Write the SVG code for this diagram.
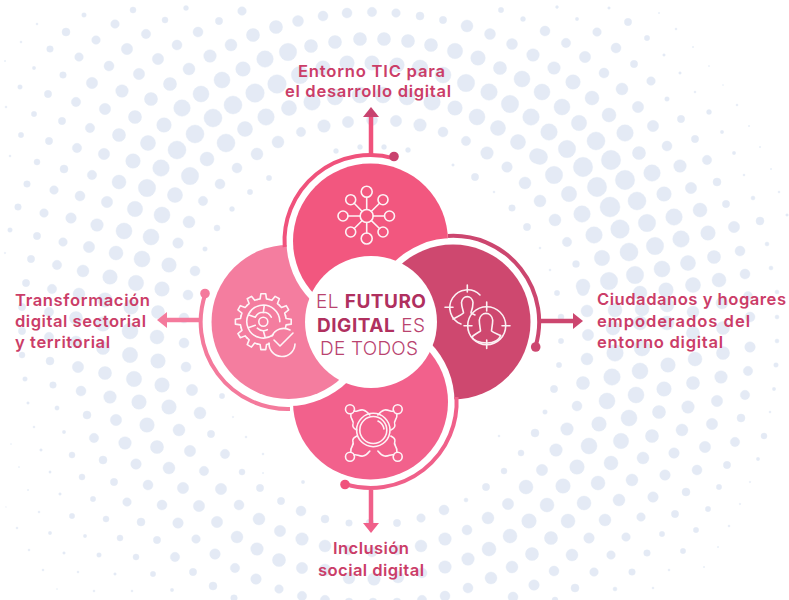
<svg xmlns="http://www.w3.org/2000/svg" width="789" height="600" viewBox="0 0 789 600">
<style>
.l{font-family:"Inter","Liberation Sans",sans-serif;font-weight:600;font-size:16.6px;fill:#cb3d68}
.c{font-family:"Inter","Liberation Sans",sans-serif;font-weight:300;font-size:19px;fill:#b9436f}
.c tspan{font-weight:700;fill:#b0305f}
.i{fill:none;stroke:#fff;stroke-width:1.6;stroke-linecap:round;stroke-linejoin:round;opacity:.92}
.r{fill:none;stroke-width:4;stroke-linecap:butt}
.s{fill:none;stroke-width:4.5}
</style>
<defs>
<marker id="mt" markerUnits="userSpaceOnUse" markerWidth="11" markerHeight="16" refX="0" refY="8" orient="auto"><path d="M0 0L10 8L0 16Z" fill="#c8436f"/></marker>
<marker id="mr" markerUnits="userSpaceOnUse" markerWidth="11" markerHeight="16" refX="0" refY="8" orient="auto"><path d="M0 0L10 8L0 16Z" fill="#cc466f"/></marker>
<marker id="mb" markerUnits="userSpaceOnUse" markerWidth="11" markerHeight="16" refX="0" refY="8" orient="auto"><path d="M0 0L10 8L0 16Z" fill="#f0608a"/></marker>
<marker id="ml" markerUnits="userSpaceOnUse" markerWidth="11" markerHeight="16" refX="0" refY="8" orient="auto"><path d="M0 0L10 8L0 16Z" fill="#f47a9c"/></marker>
<clipPath id="lc"><rect x="190" y="340" width="210" height="90"/></clipPath>
<path id="tooth" d="M-5.95-22.2L-3.2-22.8L-2.44-27.9H2.44L3.2-22.8L5.95-22.2"/>
<path id="hubw" d="M-20-22C-16-20-12-28-4-18M-23-19C-24-13-19-13-21-8C-21.500-5-19-4-17-3"/>
</defs>
<rect width="789" height="600" fill="#fff"/>
<g id="background" fill="#e4eaf5" stroke="#e4eaf5" stroke-width=".4">
<circle cx="133" cy="10" r="3"/><circle cx="186" cy="8" r="2.5"/><circle cx="242" cy="11" r="4.3"/><circle cx="84" cy="15" r="2.3"/><circle cx="37" cy="24" r="1"/><circle cx="115" cy="24" r="4.3"/><circle cx="165" cy="20" r="3"/><circle cx="219" cy="21" r="3.7"/><circle cx="276" cy="27" r="6.6"/><circle cx="298" cy="21" r="5.5"/><circle cx="66" cy="32" r="4"/><circle cx="146" cy="34" r="4.7"/><circle cx="198" cy="32" r="5"/><circle cx="253" cy="35" r="6.6"/><circle cx="21" cy="42" r="1"/><circle cx="96" cy="40" r="4.3"/><circle cx="177" cy="45" r="5"/><circle cx="231" cy="45" r="6"/><circle cx="288" cy="52" r="8.7"/><circle cx="50" cy="49" r="3.3"/><circle cx="127" cy="49" r="5.7"/><circle cx="210" cy="56" r="6.3"/><circle cx="265" cy="59" r="8.3"/><circle cx="79" cy="57" r="4.3"/><circle cx="158" cy="59" r="5.7"/><circle cx="5" cy="61" r=".7"/><circle cx="109" cy="66" r="5"/><circle cx="189" cy="69" r="6"/><circle cx="243" cy="69" r="7.3"/><circle cx="34" cy="68" r="1.7"/><circle cx="63" cy="75" r="3.3"/><circle cx="139" cy="74" r="5.7"/><circle cx="222" cy="80" r="8"/><circle cx="277" cy="84" r="9.3"/><circle cx="20" cy="87" r="2.3"/><circle cx="92" cy="83" r="5.7"/><circle cx="170" cy="84" r="6.6"/><circle cx="255" cy="93" r="9.3"/><circle cx="48" cy="94" r="3.7"/><circle cx="122" cy="91" r="6.3"/><circle cx="201" cy="94" r="8"/><circle cx="76" cy="102" r="4.7"/><circle cx="151" cy="99" r="6.6"/><circle cx="233" cy="105" r="9"/><circle cx="289" cy="108" r="7.6"/><circle cx="182" cy="108" r="8.3"/><circle cx="105" cy="109" r="5.7"/><circle cx="6" cy="107" r="1"/><circle cx="34" cy="114" r="2.7"/><circle cx="213" cy="118" r="9"/><circle cx="266" cy="117" r="8.3"/><circle cx="135" cy="117" r="6.6"/><circle cx="62" cy="121" r="3.7"/><circle cx="164" cy="125" r="7.3"/><circle cx="90" cy="128" r="4.7"/><circle cx="245" cy="129" r="7.6"/><circle cx="195" cy="134" r="9"/><circle cx="119" cy="135" r="6.6"/><circle cx="21" cy="135" r="2.7"/><circle cx="49" cy="141" r="3.7"/><circle cx="148" cy="143" r="7.6"/><circle cx="226" cy="143" r="9"/><circle cx="278" cy="142" r="6"/><circle cx="77" cy="148" r="4.7"/><circle cx="177" cy="150" r="9"/><circle cx="10" cy="156" r="1"/><circle cx="104" cy="154" r="5.7"/><circle cx="257" cy="154" r="6"/><circle cx="207" cy="159" r="7"/><circle cx="133" cy="161" r="7.3"/><circle cx="37" cy="162" r="3"/><circle cx="161" cy="168" r="8.3"/><circle cx="64" cy="169" r="4"/><circle cx="237" cy="168" r="5"/><circle cx="92" cy="175" r="4.7"/><circle cx="190" cy="176" r="8.7"/><circle cx="119" cy="182" r="7"/><circle cx="269" cy="178" r="2.7"/><circle cx="27" cy="184" r="3.3"/><circle cx="220" cy="184" r="5"/><circle cx="147" cy="188" r="8.7"/><circle cx="54" cy="190" r="4.3"/><circle cx="250" cy="192" r="2.7"/><circle cx="175" cy="195" r="7.6"/><circle cx="80" cy="196" r="5"/><circle cx="107" cy="202" r="5.7"/><circle cx="203" cy="201" r="4.7"/>
<circle cx="135" cy="209" r="7.7"/><circle cx="18" cy="207" r="3.3"/><circle cx="44" cy="213" r="4.3"/><circle cx="71" cy="218" r="5.3"/><circle cx="162" cy="215" r="8"/><circle cx="189" cy="222" r="6"/><circle cx="97" cy="225" r="6.3"/><circle cx="124" cy="231" r="8"/><circle cx="10" cy="230" r="2.3"/><circle cx="151" cy="237" r="8"/><circle cx="37" cy="236" r="3.7"/><circle cx="178" cy="243" r="5.3"/><circle cx="63" cy="242" r="4.3"/><circle cx="89" cy="247" r="5.7"/><circle cx="205" cy="249" r="2.3"/><circle cx="116" cy="253" r="7"/><circle cx="5" cy="253" r=".8"/><circle cx="31" cy="259" r="3.7"/><circle cx="142" cy="259" r="8"/><circle cx="169" cy="265" r="7.3"/><circle cx="57" cy="265" r="4.7"/><circle cx="195" cy="271" r="5"/><circle cx="83" cy="271" r="6"/><circle cx="110" cy="277" r="7.3"/><circle cx="26" cy="283" r="3.7"/><circle cx="136" cy="283" r="7.7"/><circle cx="52" cy="289" r="4.7"/><circle cx="162" cy="289" r="7.3"/><circle cx="79" cy="294" r="6"/><circle cx="188" cy="295" r="5"/><circle cx="105" cy="300" r="7.3"/><circle cx="131" cy="307" r="7.3"/><circle cx="22" cy="307" r="3.7"/><circle cx="158" cy="312" r="6.6"/><circle cx="49" cy="312" r="4.7"/><circle cx="184" cy="318" r="5"/><circle cx="76" cy="318" r="6.6"/><circle cx="103" cy="324" r="7.3"/><circle cx="22" cy="331" r="3.7"/><circle cx="130" cy="331" r="8"/><circle cx="49" cy="337" r="4.7"/><circle cx="157" cy="337" r="7"/><circle cx="76" cy="342" r="6"/><circle cx="184" cy="343" r="5"/><circle cx="103" cy="348" r="6.6"/><circle cx="22" cy="355" r="3"/><circle cx="130" cy="355" r="7.7"/><circle cx="50" cy="361" r="4"/><circle cx="158" cy="361" r="7.3"/><circle cx="78" cy="367" r="5.7"/><circle cx="186" cy="367" r="5"/><circle cx="105" cy="373" r="6.6"/><circle cx="25" cy="379" r="2.3"/><circle cx="134" cy="379" r="7.7"/><circle cx="53" cy="385" r="3.3"/><circle cx="162" cy="385" r="7.3"/><circle cx="81" cy="391" r="5"/><circle cx="192" cy="390" r="5.7"/><circle cx="110" cy="397" r="6.3"/><circle cx="28" cy="403" r="1.3"/><circle cx="139" cy="402" r="7.3"/><circle cx="169" cy="407" r="7.3"/><circle cx="57" cy="408" r="2.2"/><circle cx="222" cy="396" r="2.7"/>
<circle cx="87" cy="415" r="4"/><circle cx="200" cy="413" r="6"/><circle cx="116" cy="420" r="5.7"/><circle cx="147" cy="425" r="7.3"/><circle cx="179" cy="430" r="6"/><circle cx="211" cy="434" r="3.7"/><circle cx="233" cy="417" r=".8"/><circle cx="34" cy="427" r="1"/><circle cx="64" cy="432" r="1.7"/><circle cx="94" cy="438" r="4.7"/><circle cx="125" cy="443" r="6.3"/><circle cx="157" cy="447" r="6.6"/><circle cx="190" cy="451" r="5.7"/><circle cx="225" cy="454" r="4.7"/><circle cx="246" cy="437" r="1"/><circle cx="11" cy="444" r=".5"/><circle cx="41" cy="450" r="1.3"/><circle cx="72" cy="455" r="3"/><circle cx="103" cy="460" r="4"/><circle cx="136" cy="464" r="5.3"/><circle cx="169" cy="468" r="6"/><circle cx="204" cy="471" r="4.7"/><circle cx="242" cy="472" r="3"/><circle cx="263" cy="454" r="1"/><circle cx="19" cy="467" r=".6"/><circle cx="50" cy="472" r="1.2"/><circle cx="82" cy="477" r="3"/><circle cx="114" cy="482" r="3.7"/><circle cx="148" cy="485" r="5"/><circle cx="183" cy="488" r="5.7"/><circle cx="221" cy="489" r="5.7"/><circle cx="260" cy="488" r="3.7"/><circle cx="28" cy="490" r=".7"/><circle cx="60" cy="494" r="1.3"/><circle cx="93" cy="499" r="2.7"/><circle cx="127" cy="502" r="4.3"/><circle cx="162" cy="505" r="5"/><circle cx="199" cy="506" r="5.7"/><circle cx="239" cy="505" r="5"/><circle cx="281" cy="501" r="3.7"/><circle cx="301" cy="511" r="5"/><circle cx="6" cy="507" r=".4"/><circle cx="39" cy="512" r="1"/><circle cx="72" cy="516" r="2.7"/><circle cx="106" cy="519" r="3"/><circle cx="141" cy="522" r="4"/><circle cx="178" cy="523" r="5.3"/><circle cx="217" cy="522" r="5.7"/><circle cx="259" cy="519" r="6"/><circle cx="17" cy="528" r="1"/><circle cx="50" cy="533" r="1.7"/><circle cx="85" cy="536" r="1.7"/><circle cx="120" cy="538" r="3"/><circle cx="157" cy="540" r="3.7"/><circle cx="196" cy="539" r="4.3"/><circle cx="237" cy="537" r="6"/><circle cx="280" cy="531" r="5.7"/><circle cx="302" cy="539" r="6.3"/><circle cx="29" cy="550" r="1"/><circle cx="64" cy="553" r="1.3"/><circle cx="99" cy="555" r="2.3"/><circle cx="136" cy="557" r="3"/><circle cx="175" cy="557" r="4.7"/><circle cx="215" cy="554" r="5.3"/><circle cx="257" cy="549" r="6.3"/><circle cx="279" cy="560" r="6.6"/><circle cx="43" cy="570" r="1"/><circle cx="78" cy="572" r="1"/><circle cx="115" cy="574" r="1.3"/><circle cx="153" cy="574" r="2.7"/><circle cx="193" cy="572" r="3.7"/><circle cx="235" cy="568" r="4.7"/><circle cx="302" cy="568" r="5.7"/><circle cx="57" cy="589" r=".5"/><circle cx="94" cy="591" r="1"/><circle cx="132" cy="591" r="1"/><circle cx="172" cy="590" r="1.7"/><circle cx="213" cy="586" r="4"/><circle cx="256" cy="579" r="5.3"/><circle cx="279" cy="589" r="4.3"/><circle cx="234" cy="598" r="3.3"/><circle cx="302" cy="596" r="4.7"/><circle cx="303" cy="482" r="1.7"/><circle cx="263" cy="473" r=".7"/>
<circle cx="325" cy="519" r="4"/><circle cx="349" cy="523" r="3.3"/><circle cx="370" cy="523" r="4"/><circle cx="397" cy="523" r="3.7"/><circle cx="421" cy="518" r="4.3"/><circle cx="444" cy="510" r="5"/><circle cx="466" cy="500" r="2"/><circle cx="486" cy="487" r="3.7"/><circle cx="526" cy="487" r="7"/><circle cx="508" cy="504" r="5.7"/><circle cx="488" cy="518" r="6"/><circle cx="529" cy="521" r="7.3"/><circle cx="467" cy="530" r="5"/><circle cx="510" cy="536" r="7"/><circle cx="445" cy="539" r="6.3"/><circle cx="421" cy="546" r="6"/><circle cx="325" cy="546" r="6"/><circle cx="348" cy="550" r="5"/><circle cx="372" cy="552" r="5"/><circle cx="397" cy="550" r="5"/><circle cx="489" cy="549" r="7"/><circle cx="532" cy="554" r="6.6"/><circle cx="468" cy="559" r="6.3"/><circle cx="445" cy="567" r="6.3"/><circle cx="512" cy="567" r="6"/><circle cx="325" cy="570" r="6"/><circle cx="349" cy="578" r="6"/><circle cx="374" cy="579" r="6.3"/><circle cx="398" cy="577" r="6"/><circle cx="422" cy="573" r="5"/><circle cx="491" cy="578" r="6"/><circle cx="534" cy="585" r="5.3"/><circle cx="468" cy="588" r="5"/><circle cx="445" cy="596" r="5"/><circle cx="325" cy="600" r="4.7"/><circle cx="422" cy="600" r="4.7"/><circle cx="513" cy="597" r="5"/><circle cx="349" cy="602" r="4"/><circle cx="373" cy="602" r="4"/><circle cx="397" cy="602" r="4"/>
<circle cx="557" cy="293" r="2.7"/><circle cx="583" cy="290" r="5.7"/><circle cx="587" cy="311" r="6"/><circle cx="561" cy="317" r="3"/><circle cx="588" cy="335" r="5.7"/><circle cx="561" cy="341" r="2.7"/><circle cx="613" cy="328" r="7"/><circle cx="640" cy="323" r="7"/><circle cx="667" cy="323" r="7"/><circle cx="693" cy="333" r="6.6"/><circle cx="723" cy="328" r="6.6"/><circle cx="750" cy="317" r="5"/><circle cx="777" cy="317" r="2"/><circle cx="750" cy="347" r="5.3"/><circle cx="777" cy="341" r="2"/><circle cx="723" cy="353" r="6.6"/><circle cx="695" cy="359" r="7"/><circle cx="668" cy="365" r="7.3"/><circle cx="640" cy="371" r="8"/><circle cx="615" cy="353" r="8.3"/><circle cx="642" cy="348" r="8"/><circle cx="587" cy="359" r="6"/><circle cx="559" cy="365" r="2.7"/><circle cx="612" cy="377" r="8.3"/><circle cx="583" cy="383" r="6.6"/><circle cx="554" cy="389" r="3.7"/><circle cx="721" cy="377" r="6.3"/><circle cx="748" cy="371" r="4.7"/><circle cx="776" cy="365" r="2.3"/><circle cx="693" cy="383" r="6.6"/><circle cx="664" cy="389" r="7.3"/><circle cx="636" cy="395" r="8"/><circle cx="607" cy="401" r="8"/><circle cx="577" cy="406" r="5"/><circle cx="545" cy="412" r="2.3"/><circle cx="745" cy="395" r="4.7"/><circle cx="774" cy="389" r="1.7"/><circle cx="717" cy="401" r="5.7"/><circle cx="688" cy="407" r="6.3"/><circle cx="659" cy="412" r="6.6"/><circle cx="629" cy="418" r="8"/><circle cx="599" cy="424" r="7.3"/><circle cx="567" cy="429" r="6.3"/><circle cx="535" cy="433" r="4"/><circle cx="741" cy="418" r="4"/><circle cx="770" cy="412" r="1"/><circle cx="712" cy="424" r="5.7"/><circle cx="682" cy="430" r="6"/><circle cx="652" cy="436" r="6.6"/><circle cx="621" cy="441" r="7.7"/><circle cx="589" cy="446" r="8"/><circle cx="556" cy="450" r="6.3"/><circle cx="764" cy="436" r="3"/><circle cx="735" cy="442" r="4.7"/><circle cx="705" cy="447" r="5.7"/><circle cx="674" cy="453" r="5.3"/><circle cx="643" cy="458" r="6"/><circle cx="611" cy="463" r="7"/><circle cx="577" cy="467" r="7.3"/><circle cx="542" cy="470" r="5.7"/><circle cx="758" cy="459" r="1.7"/><circle cx="727" cy="465" r="3.7"/><circle cx="697" cy="470" r="5"/><circle cx="665" cy="475" r="5.3"/><circle cx="632" cy="480" r="6"/><circle cx="598" cy="483" r="7"/><circle cx="563" cy="486" r="7.3"/><circle cx="750" cy="482" r=".8"/><circle cx="719" cy="487" r="2.7"/><circle cx="686" cy="492" r="4"/><circle cx="653" cy="497" r="5.3"/><circle cx="619" cy="500" r="6"/><circle cx="584" cy="503" r="7"/><circle cx="547" cy="505" r="7"/><circle cx="740" cy="504" r=".8"/><circle cx="708" cy="509" r="2.7"/><circle cx="675" cy="514" r="3.7"/><circle cx="641" cy="517" r="4.3"/><circle cx="605" cy="520" r="6"/><circle cx="568" cy="521" r="7"/><circle cx="729" cy="526" r="1"/><circle cx="696" cy="530" r="2.7"/><circle cx="662" cy="534" r="2.7"/><circle cx="626" cy="537" r="4.3"/><circle cx="589" cy="538" r="5.3"/><circle cx="551" cy="538" r="6.6"/><circle cx="718" cy="547" r=".7"/><circle cx="683" cy="551" r="2.7"/><circle cx="647" cy="553" r="3.3"/><circle cx="611" cy="555" r="4.3"/><circle cx="572" cy="555" r="6"/><circle cx="669" cy="570" r="1"/><circle cx="632" cy="572" r="3.3"/><circle cx="594" cy="572" r="4.3"/><circle cx="554" cy="571" r="5"/><circle cx="704" cy="567" r=".7"/><circle cx="653" cy="588" r="1"/><circle cx="615" cy="589" r="2"/><circle cx="575" cy="588" r="4"/><circle cx="555" cy="600" r="3"/>
<circle cx="557" cy="7" r="1.5"/><circle cx="609" cy="8" r="1.3"/><circle cx="577" cy="19" r="1.7"/><circle cx="628" cy="22" r="3.7"/><circle cx="659" cy="13" r=".7"/><circle cx="545" cy="31" r="5"/><circle cx="597" cy="32" r="4.3"/><circle cx="676" cy="29" r="1"/><circle cx="647" cy="38" r="2.7"/><circle cx="566" cy="43" r="4.7"/><circle cx="616" cy="48" r="5"/><circle cx="693" cy="47" r=".7"/><circle cx="585" cy="57" r="5.7"/><circle cx="664" cy="55" r="1.3"/><circle cx="634" cy="64" r="3.7"/><circle cx="554" cy="68" r="6.3"/><circle cx="709" cy="66" r=".6"/><circle cx="680" cy="73" r="1.3"/><circle cx="604" cy="73" r="5"/><circle cx="651" cy="81" r="4.3"/><circle cx="573" cy="82" r="7.3"/><circle cx="723" cy="85" r=".5"/><circle cx="622" cy="89" r="6"/><circle cx="695" cy="92" r="1"/><circle cx="542" cy="92" r="8"/><circle cx="592" cy="98" r="7"/><circle cx="667" cy="99" r="2.3"/><circle cx="737" cy="105" r="1"/><circle cx="638" cy="107" r="5.7"/><circle cx="562" cy="107" r="8"/><circle cx="709" cy="112" r="2.5"/><circle cx="609" cy="115" r="7"/><circle cx="681" cy="119" r="3.7"/><circle cx="579" cy="123" r="7.7"/><circle cx="653" cy="126" r="5.7"/><circle cx="749" cy="126" r=".7"/><circle cx="549" cy="132" r="8.3"/><circle cx="722" cy="132" r="1.7"/><circle cx="625" cy="133" r="8.3"/><circle cx="695" cy="139" r="3.7"/><circle cx="596" cy="141" r="9"/><circle cx="667" cy="146" r="5"/><circle cx="760" cy="147" r=".7"/><circle cx="567" cy="149" r="8.7"/><circle cx="639" cy="153" r="6.6"/><circle cx="734" cy="153" r="1.7"/><circle cx="540" cy="157" r="7.6"/><circle cx="611" cy="160" r="9.7"/><circle cx="707" cy="160" r="4.7"/><circle cx="680" cy="166" r="6.3"/><circle cx="583" cy="167" r="9.7"/><circle cx="771" cy="169" r=".7"/><circle cx="652" cy="173" r="8.3"/><circle cx="554" cy="175" r="8.7"/><circle cx="744" cy="175" r="1"/><circle cx="625" cy="180" r="9.7"/><circle cx="717" cy="182" r="4"/><circle cx="597" cy="187" r="9.7"/><circle cx="691" cy="188" r="5.7"/><circle cx="569" cy="194" r="7.7"/><circle cx="664" cy="194" r="7.3"/><circle cx="779" cy="192" r="1"/><circle cx="753" cy="198" r="2"/><circle cx="637" cy="201" r="9"/><circle cx="726" cy="204" r="3.7"/><circle cx="540" cy="201" r="6"/><circle cx="610" cy="207" r="10"/><circle cx="700" cy="210" r="7"/><circle cx="582" cy="214" r="8.3"/><circle cx="674" cy="217" r="8.3"/><circle cx="787" cy="215" r="1.3"/><circle cx="555" cy="220" r="6"/><circle cx="647" cy="223" r="8.7"/><circle cx="760" cy="221" r="4"/><circle cx="620" cy="229" r="9.3"/><circle cx="734" cy="227" r="5.7"/><circle cx="594" cy="235" r="8.3"/><circle cx="708" cy="233" r="7.3"/><circle cx="681" cy="239" r="8.3"/><circle cx="567" cy="242" r="4.7"/><circle cx="655" cy="246" r="8.7"/><circle cx="767" cy="244" r="2"/><circle cx="540" cy="248" r="1"/><circle cx="740" cy="251" r="5"/><circle cx="629" cy="252" r="9"/><circle cx="714" cy="257" r="6.6"/><circle cx="602" cy="258" r="7.7"/><circle cx="576" cy="264" r="3.5"/><circle cx="688" cy="263" r="7.6"/><circle cx="662" cy="269" r="8"/><circle cx="771" cy="268" r="2"/><circle cx="550" cy="270" r="1"/><circle cx="745" cy="274" r="5"/><circle cx="635" cy="275" r="8.7"/><circle cx="609" cy="281" r="8.7"/><circle cx="719" cy="280" r="7"/><circle cx="583" cy="286" r="7"/><circle cx="693" cy="285" r="7.6"/><circle cx="666" cy="290" r="7.3"/><circle cx="640" cy="293" r="7"/><circle cx="722" cy="303" r="6"/><circle cx="777" cy="292" r="2"/><circle cx="748" cy="296" r="4.5"/><circle cx="693" cy="312" r="6"/><circle cx="667" cy="305" r="7"/><circle cx="642" cy="309" r="7"/><circle cx="615" cy="310" r="7"/>
<circle cx="323" cy="16" r="5"/><circle cx="347" cy="13" r="5"/><circle cx="372" cy="12" r="4.7"/><circle cx="396" cy="13" r="4.3"/><circle cx="420" cy="16" r="4"/><circle cx="443" cy="20" r="3.7"/><circle cx="501" cy="10" r="2.7"/><circle cx="523" cy="19" r="2.5"/><circle cx="467" cy="26" r="6"/><circle cx="490" cy="34" r="5.5"/><circle cx="512" cy="44" r="5.5"/><circle cx="311" cy="46" r="6.6"/><circle cx="335" cy="42" r="6.6"/><circle cx="360" cy="39" r="6.6"/><circle cx="384" cy="39" r="6.6"/><circle cx="408" cy="41" r="6.6"/><circle cx="431" cy="45" r="6.6"/><circle cx="455" cy="51" r="7.7"/><circle cx="478" cy="58" r="7.3"/><circle cx="533" cy="55" r="6.3"/><circle cx="500" cy="68" r="6.6"/><circle cx="323" cy="68" r="7.3"/><circle cx="347" cy="63" r="7.3"/><circle cx="372" cy="63" r="7.3"/><circle cx="397" cy="65" r="7.3"/><circle cx="420" cy="68" r="8"/><circle cx="443" cy="75" r="8"/><circle cx="300" cy="75" r="8.7"/><circle cx="466" cy="83" r="8.7"/><circle cx="522" cy="79" r="8"/><circle cx="489" cy="92" r="8.3"/><circle cx="510" cy="104" r="8.7"/><circle cx="312" cy="102" r="8.3"/><circle cx="335" cy="97" r="8"/><circle cx="360" cy="95" r="8"/><circle cx="383" cy="95" r="8"/><circle cx="407" cy="97" r="8"/><circle cx="432" cy="102" r="8.3"/><circle cx="455" cy="108" r="7.3"/><circle cx="477" cy="117" r="8"/><circle cx="531" cy="117" r="8.3"/><circle cx="324" cy="126" r="6.3"/><circle cx="348" cy="122" r="5.7"/><circle cx="372" cy="120" r="5.5"/><circle cx="396" cy="121" r="5.7"/><circle cx="420" cy="125" r="6.3"/><circle cx="443" cy="132" r="5"/><circle cx="498" cy="128" r="7.6"/><circle cx="301" cy="132" r="4.7"/><circle cx="466" cy="141" r="4.7"/><circle cx="518" cy="142" r="7.6"/><circle cx="336" cy="151" r="2.5"/><circle cx="360" cy="147" r="2.5"/><circle cx="384" cy="147" r="2.5"/><circle cx="408" cy="150" r="2.5"/><circle cx="487" cy="153" r="6.3"/><circle cx="537" cy="156" r="7.6"/>
<circle cx="507" cy="167" r="5.3"/><circle cx="525" cy="183" r="6"/><circle cx="475" cy="177" r="3.7"/><circle cx="512" cy="208" r="3.3"/><circle cx="527" cy="227" r="3.7"/><circle cx="453" cy="165" r="1.3"/><circle cx="494" cy="192" r="1"/><circle cx="232" cy="209" r="2.5"/><circle cx="217" cy="228" r="3"/><circle cx="499" cy="436" r="1"/><circle cx="521" cy="453" r="3"/><circle cx="504" cy="471" r="3"/>
</g>
<g id="connectors">
<path class="s" stroke="#f0527c" d="M371 154V117" marker-end="url(#mt)"/>
<path class="s" stroke="#cc466f" d="M541 321H573" marker-end="url(#mr)"/>
<path class="s" stroke="#f0608a" d="M371 490V523" marker-end="url(#mb)"/>
<path class="s" stroke="#f47a9c" d="M199 320H167" marker-end="url(#ml)"/>
</g>
<g id="node-left"><circle cx="288.5" cy="322" r="77" fill="#f47d9f"/></g>
<g id="node-top"><circle cx="370.5" cy="241" r="84" fill="#fff"/><circle cx="370.5" cy="241" r="77.5" fill="#f2577f"/></g>
<g id="node-right"><circle cx="453" cy="322" r="84" fill="#fff"/><circle cx="453" cy="322" r="77.5" fill="#ce486f"/></g>
<g id="node-bottom"><circle cx="370.5" cy="402" r="84" fill="#fff"/><circle cx="370.5" cy="402" r="77.5" fill="#f2618c"/></g>
<g id="node-left-front" clip-path="url(#lc)"><circle cx="288.5" cy="322" r="84" fill="#fff"/><circle cx="288.5" cy="322" r="77" fill="#f47d9f"/></g>
<g id="arcs">
<path class="r" stroke="#f0527c" d="M394 158.3A86 86 0 0 0 284.7 247"/><circle cx="394" cy="156.5" r="4.8" fill="#c9426e"/>
<path class="r" stroke="#cc466f" d="M448 236A86 86 0 0 1 535.4 347"/><circle cx="535.7" cy="347" r="4.8" fill="#cc466f"/>
<path class="r" stroke="#f0608a" d="M456.5 397A86 86 0 0 1 345 484"/><circle cx="345" cy="484.5" r="4.8" fill="#f0527c"/>
<path class="r" stroke="#f47a9c" d="M205.3 294A87 87 0 0 0 290 409"/><circle cx="205" cy="293.5" r="4.8" fill="#f47a9c"/>
</g>
<g id="icon-network" class="i">
<circle cx="366.7" cy="216" r="6.5"/><circle cx="366.7" cy="191.7" r="5.5"/><circle cx="366.7" cy="238.5" r="5.5"/><circle cx="343" cy="216" r="5"/><circle cx="389.5" cy="216" r="5"/><circle cx="350.7" cy="199.7" r="5"/><circle cx="383" cy="199.7" r="5"/><circle cx="350.7" cy="232" r="5"/><circle cx="383" cy="232" r="5"/>
<path d="M366.7 197.2V209.5M366.7 222.5V233M348 216H360.2M373.2 216H384.5M354.2 203.2L362 211.3M379.5 203.2L371.4 211.3M354.2 228.5L362 220.7M379.5 228.5L371.4 220.7"/>
</g>
<g id="icon-gear" class="i">
<g transform="translate(263.3 321.7)">
<use href="#tooth"/><use href="#tooth" transform="rotate(30)"/><use href="#tooth" transform="rotate(60)"/><use href="#tooth" transform="rotate(90)"/><use href="#tooth" transform="rotate(180)"/><use href="#tooth" transform="rotate(210)"/><use href="#tooth" transform="rotate(240)"/><use href="#tooth" transform="rotate(270)"/><use href="#tooth" transform="rotate(300)"/><use href="#tooth" transform="rotate(330)"/>
<circle r="4.5"/><path d="M10 13A16.500 16.500 0 1 1 16.500 0M-8 -4.500A9 9 0 0 1 8 -4.500M-6 6.500A9 9 0 0 0 4 8M-15 -7L-8 -4.500M1 -16.500L0 -9M-15 6L-8 3.500M0 9L2 16"/>
</g>
<path d="M290 330A13 13 0 0 0 272 336M269 343A13 13 0 0 0 295 344M274 340L280 346L293 333"/>
</g>
<g id="icon-people" class="i">
<path d="M480 295A17.7 17.7 0 1 0 461 324"/><path d="M467.3 285V292M445 307.3H453"/>
<path d="M463.500 313C463.500 311 461.500 307 461.500 302.500A5.800 6.800 0 0 1 473 302.500C473 306 472 310 471 312.500M463.500 313C460 316 456 317 453 319M471 313L475 315"/>
<circle cx="486.7" cy="325.700" r="19"/><path d="M486.700 302V311M486.700 340V348.500M464 325.700H472M502 325.700H510"/>
<path d="M480.500 331C480.500 329 479.300 325 479.300 320A6.800 8 0 0 1 492.700 320C492.700 325 491.500 329 491.500 331C494 333 498 334 500.700 335.500M480.500 331C477 333.500 474 334.500 472 337C473 340 479 343 487 343C494 343 499 340 500.700 335.500"/>
</g>
<g id="icon-hub" class="i">
<circle cx="373.3" cy="430" r="16.7"/><circle cx="373.3" cy="430" r="13.5"/><path d="M378 421A11 11 0 0 1 384 429"/>
<circle cx="350" cy="409.300" r="4.500"/><circle cx="397.700" cy="409.300" r="4.500"/><circle cx="350" cy="456.700" r="4.500"/><circle cx="397.700" cy="456.700" r="4.500"/>
<g transform="translate(373.850 433)"><use href="#hubw"/><use href="#hubw" transform="scale(-1 1)"/><use href="#hubw" transform="scale(1 -1)"/><use href="#hubw" transform="scale(-1 -1)"/></g>
</g>
<g id="node-center"><circle cx="371" cy="322" r="66" fill="#fff"/>
<text class="c" x="316" y="308" textLength="110">EL <tspan>FUTURO</tspan></text>
<text class="c" x="317" y="332" textLength="108"><tspan>DIGITAL</tspan> ES</text>
<text class="c" x="320" y="355" textLength="98">DE TODOS</text>
</g>
<g id="labels">
<text class="l" x="298" y="77" textLength="147">Entorno TIC para</text>
<text class="l" x="285" y="97" textLength="166">el desarrollo digital</text>
<text class="l" x="15" y="306" textLength="135">Transformación</text>
<text class="l" x="15" y="327" textLength="131">digital sectorial</text>
<text class="l" x="15" y="348" textLength="95">y territorial</text>
<text class="l" x="597" y="305" textLength="189">Ciudadanos y hogares</text>
<text class="l" x="597" y="327" textLength="153">empoderados del</text>
<text class="l" x="597" y="348" textLength="126">entorno digital</text>
<text class="l" x="333" y="554" textLength="76">Inclusión</text>
<text class="l" x="318" y="576" textLength="106">social digital</text>
</g>
</svg>
